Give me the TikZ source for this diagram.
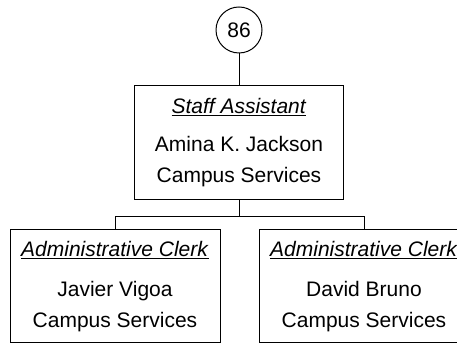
\documentclass[tikz,border=0pt]{standalone}
\usepackage{fontspec}
\setmainfont{Liberation Sans}
\usetikzlibrary{positioning}
\definecolor{ChartInk}{HTML}{000000}

\begin{document}
\begin{tikzpicture}[
    x=1pt, y=1pt,
    font=\fontsize{21}{31}\selectfont,
    tag/.style={
        circle,
        draw=ChartInk,
        line width=1pt,
        minimum size=46pt,
        inner sep=0pt
    },
    card/.style={
        rectangle,
        draw=ChartInk,
        line width=1pt,
        minimum width=210pt,
        minimum height=113pt,
        align=center,
        inner sep=0pt
    },
    link/.style={
        line width=1pt,
        draw=ChartInk
    },
    node distance=32pt
]
    \useasboundingbox (0,0) rectangle (457,344);

    \node[tag] (badge) at (239,314) {86};
    \node[card, minimum width=209pt, minimum height=114pt, below=of badge] (assistant)
        {\underline{\textit{Staff Assistant}}\\[7pt]Amina K. Jackson\\Campus Services};
    \node[card] (clerkA) at (115,57.5)
        {\underline{\textit{Administrative Clerk}}\\[9pt]Javier Vigoa\\Campus Services};
    \node[card] (clerkB) at (364,57.5)
        {\underline{\textit{Administrative Clerk}}\\[9pt]David Bruno\\Campus Services};

    % reporting lines
    \coordinate (bus) at ([yshift=-16pt]assistant.south);
    \draw[link] (badge) -- (assistant);
    \draw[link] (assistant) -- (bus);
    \draw[link] (bus) -| (clerkA);
    \draw[link] (bus) -| (clerkB);
\end{tikzpicture}
\end{document}
